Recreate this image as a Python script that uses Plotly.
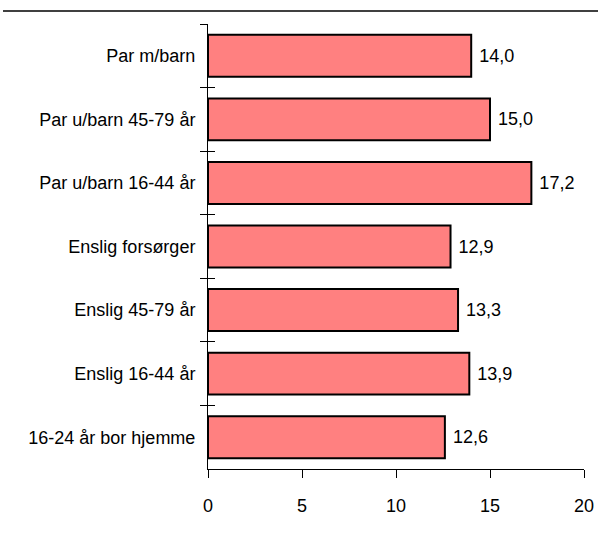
import plotly.graph_objects as go

categories = ["Par m/barn", "Par u/barn 45-79 år", "Par u/barn 16-44 år",
              "Enslig forsørger", "Enslig 45-79 år", "Enslig 16-44 år",
              "16-24 år bor hjemme"]
values = [14.0, 15.0, 17.2, 12.9, 13.3, 13.9, 12.6]
x_ticks = [0, 5, 10, 15, 20]

labels = [" " + f"{v:.1f}".replace(".", ",") for v in values]
font = dict(family="Liberation Sans, Arial, sans-serif", size=18, color="black")

fig = go.Figure()
fig.add_trace(go.Bar(
    x=values, y=categories, orientation="h",
    marker=dict(color="#FF8080", line=dict(color="black", width=2)),
    width=0.66,
    text=labels, textposition="outside", cliponaxis=False,
    constraintext="none",
    textfont=font,
))
# invisible trace on overlay axis for inner ticks
fig.add_trace(go.Bar(x=[None]*len(categories), y=categories, orientation="h",
                     yaxis="y2", showlegend=False, hoverinfo="skip"))

fig.update_layout(
    width=598, height=535,
    margin=dict(l=208, r=14, t=24, b=66, autoexpand=False),
    paper_bgcolor="white", plot_bgcolor="white",
    showlegend=False,
    font=font,
    xaxis=dict(range=[0, 20], tickvals=x_ticks, ticktext=[str(t) for t in x_ticks],
               showgrid=False, zeroline=False, showline=True, linecolor="black",
               linewidth=1, ticks="outside", ticklen=8, tickcolor="black",
               tickfont=font, ticklabelstandoff=12),
    yaxis=dict(autorange="reversed", type="category", categoryorder="array",
               categoryarray=categories,
               showgrid=False, zeroline=False, showline=True, linecolor="black",
               linewidth=1, ticks="outside", ticklen=7, tickcolor="black",
               tickson="boundaries", tickfont=font, ticklabelstandoff=8),
    yaxis2=dict(overlaying="y", autorange="reversed", type="category",
                categoryorder="array", categoryarray=categories,
                showgrid=False, zeroline=False, showline=False,
                ticks="inside", ticklen=7, tickcolor="black",
                tickson="boundaries", showticklabels=False, side="left"),
    shapes=[dict(type="line", xref="paper", yref="paper",
                 x0=(3 - 208) / 376, x1=(598 - 208) / 376,
                 y0=1 + 13 / 445, y1=1 + 13 / 445,
                 line=dict(color="black", width=1.5))],
)

fig.write_html("out.html", config={"displayModeBar": False},
               post_script="document.body.style.margin='0';document.body.style.overflow='hidden';")
